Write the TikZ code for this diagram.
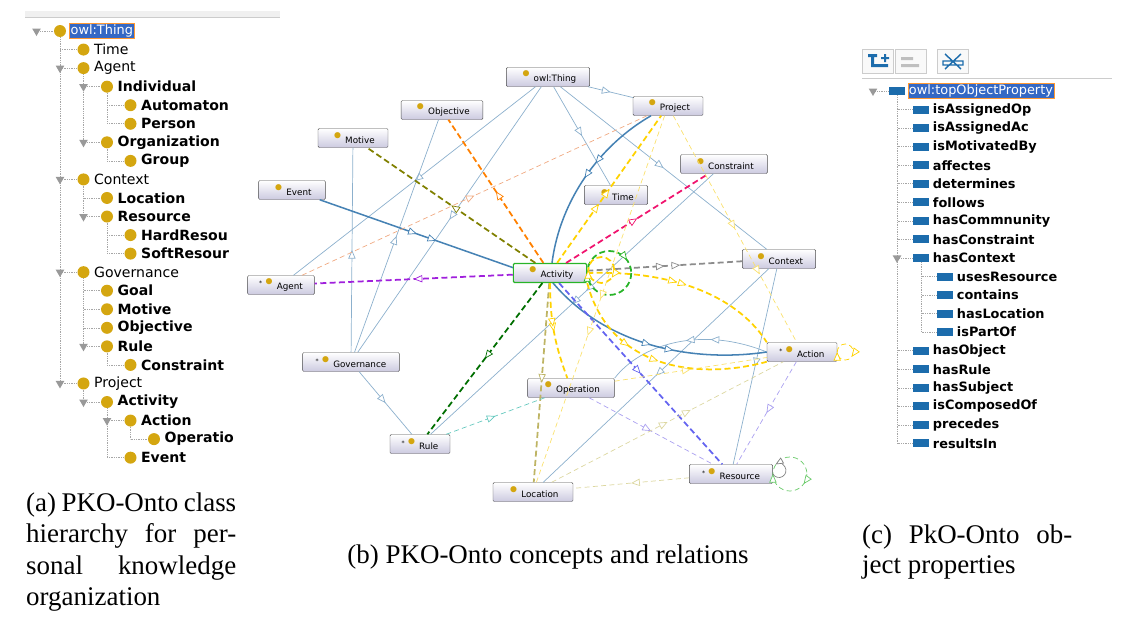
\documentclass[tikz,border=0pt]{standalone}
\usepackage{fontspec}
\setmainfont{DejaVu Sans}
\newfontfamily\capf{Liberation Serif}
\usetikzlibrary{positioning,calc,shapes.geometric,arrows.meta,decorations.markings}

\definecolor{gold}{RGB}{212,166,16}
\definecolor{selblue}{RGB}{52,104,196}
\definecolor{propblue}{RGB}{28,108,172}
\definecolor{subblue}{RGB}{140,176,205}
\definecolor{isablue}{RGB}{70,130,180}
\definecolor{cpurple}{RGB}{160,32,220}
\definecolor{colive}{RGB}{128,128,0}
\definecolor{corange}{RGB}{255,128,0}
\definecolor{cpink}{RGB}{240,20,110}
\definecolor{cgray}{RGB}{140,140,140}
\definecolor{cdgreen}{RGB}{0,110,0}
\definecolor{ckhaki}{RGB}{190,180,100}
\definecolor{cviolet}{RGB}{100,100,240}
\definecolor{cyellow}{RGB}{255,210,0}
\definecolor{cpeach}{RGB}{240,170,130}
\definecolor{cteal}{RGB}{100,200,190}
\definecolor{clav}{RGB}{170,160,240}
\definecolor{cbeige}{RGB}{220,215,160}
\definecolor{clyellow}{RGB}{250,225,110}
\definecolor{cgreen}{RGB}{40,180,40}

\newcommand{\gdot}{\textcolor{gold}{\fontsize{18}{10}\selectfont\textbullet}\,}
\newcommand{\stardot}{\textsuperscript{*}\gdot}

\tikzset{
  cdot/.style={circle, fill=gold, inner sep=0pt, minimum size=0.36cm},
  tri/.style={regular polygon, regular polygon sides=3, shape border rotate=180, fill=gray!80, inner sep=0pt, minimum size=0.3cm},
  tree/.style={densely dotted, gray!70, line width=0.5pt},
  tn/.style={anchor=west, inner sep=1pt, font=\fontsize{12}{12}\selectfont},
  tb/.style={tn, font=\fontsize{12}{12}\selectfont\bfseries},
  picon/.style={fill=propblue, inner sep=0pt, minimum width=0.5cm, minimum height=0.24cm},
  pl/.style={anchor=west, inner sep=1pt, font=\fontsize{11}{12}\selectfont\bfseries},
  sel/.style={anchor=west, inner sep=1pt, fill=selblue, text=white, draw=orange!80, font=\fontsize{11}{12}\selectfont},
  cls/.style={draw=gray!60!black, rounded corners=1pt, top color=white, bottom color={rgb,255:red,204;green,202;blue,224},
    minimum height=0.57cm, inner sep=1pt, font=\fontsize{7.5}{8}\selectfont},
  mid/.style={postaction={decorate, decoration={markings, mark=at position #1 with {\arrow{Triangle[length=2.6mm, width=2.2mm, fill=white, line width=0.6pt]}}}}},
  mid/.default=0.5,
  sub/.style={subblue, line width=0.6pt, mid},
  isa/.style={isablue, line width=1.3pt, mid},
  prop/.style={line width=1.5pt, dash pattern=on 1.8mm off 1mm, mid},
  thin prop/.style={line width=0.6pt, dash pattern=on 1.5mm off 1mm, mid},
  caption text/.style={font=\capf\fontsize{23}{27}\selectfont, inner sep=0pt, anchor=base west},
}

\begin{document}
\begin{tikzpicture}[x=0.03cm, y=-0.03cm]
\useasboundingbox (0,0) rectangle (1142,640);

% --- (a) class hierarchy
\fill[gray!12] (25,11) rectangle (280,17);
\draw[gray!40] (25,17) -- (280,17);
\begin{scope}
\clip (20,20) rectangle (236,470);
\foreach \lev/\txt/\fw [count=\i] in {0/{}/tn, 1/Time/tn, 1/Agent/tn, 2/Individual/tb, 3/Automaton/tb, 3/Person/tb,
  2/Organization/tb, 3/Group/tb, 1/Context/tn, 2/Location/tb, 2/Resource/tb, 3/HardResou/tb, 3/SoftResour/tb,
  1/Governance/tn, 2/Goal/tb, 2/Motive/tb, 2/Objective/tb, 2/Rule/tb, 3/Constraint/tb, 1/Project/tn,
  2/Activity/tb, 3/Action/tb, 4/Operatio/tb, 3/Event/tb} {
  \pgfmathsetmacro\yy{31+18.55*(\i-1)}
  \pgfmathsetmacro\xx{60+23.5*\lev}
  \draw[tree] (\xx,\yy) -- ++(-23.5,0);
  \node[cdot] (c\i) at (\xx,\yy) {};
  \node[\fw] (l\i) at ($(c\i.east)+(3,0)$) {\txt};
}
\node[sel] (l1) at ($(c1.east)+(3,0)$) {owl:Thing};
\foreach \p/\q in {1/20, 3/7, 4/6, 7/8, 9/11, 11/13, 14/18, 18/19, 20/21, 21/24, 22/23}
  \draw[tree] (c\p.south) -- (c\p |- c\q);
\foreach \k in {1,3,4,7,9,11,14,18,20,21,22}
  \node[tri] at ($(c\k)+(-23.5,0)$) {};
\end{scope}

\node[caption text] (capa1) at (26,511) {\makebox[6.3cm][s]{(a) PKO-Onto class}};
\node[caption text, below=0.2cm of capa1.south west, anchor=north west] (capa2) {\makebox[6.3cm][s]{hierarchy for per-}};
\node[caption text, below=0.2cm of capa2.south west, anchor=north west] (capa3) {\makebox[6.3cm][s]{sonal knowledge}};
\node[caption text, below=0.2cm of capa3.south west, anchor=north west] (capa4) {organization};

% --- (b) concepts and relations
\node[cls, minimum width=2.5cm] (thing) at (548,77) {\gdot owl:Thing};
\node[cls, minimum width=2.1cm] (project) at (668,106) {\gdot Project};
\node[cls, minimum width=2.45cm] (objective) at (442,110) {\gdot Objective};
\node[cls, minimum width=2.1cm] (motive) at (353,138) {\gdot Motive};
\node[cls, minimum width=2.6cm] (constraint) at (724,164) {\gdot Constraint};
\node[cls, minimum width=2cm] (event) at (292,190) {\gdot Event};
\node[cls, minimum width=1.9cm] (time) at (616,195) {\gdot Time};
\node[cls, minimum width=2.2cm] (context) at (779,259) {\gdot Context};
\node[cls, minimum width=2cm] (agent) at (281,285) {\stardot Agent};
\node[cls, minimum width=2.9cm] (governance) at (351,362) {\stardot Governance};
\node[cls, minimum width=2.1cm] (action) at (802,352) {\stardot Action};
\node[cls, minimum width=2.6cm] (operation) at (571,388) {\gdot Operation};
\node[cls, minimum width=1.8cm] (rule) at (420,444) {\stardot Rule};
\node[cls, minimum width=2.5cm] (resource) at (731,474) {\stardot Resource};
\node[cls, minimum width=2.4cm] (location) at (533,492) {\gdot Location};

% subclass links
\draw[sub] (thing) -- (project);
\draw[sub] (thing) -- (time);
\draw[sub] (thing) -- (context);
\draw[sub] (thing) -- (agent);
\draw[sub] (thing) -- (governance);
\draw[sub] (governance) -- (objective);
\draw[sub] (governance) -- (motive);
\draw[sub] (governance) -- (rule);
\draw[sub, mid=0.45] (constraint) -- (rule);
\draw[sub] (context) -- (location);
\draw[sub] (context) -- (resource);
\draw[sub, mid=0.35] (action.west) .. controls (700,325) and (640,345) .. (operation.north east);
\draw[isa, mid=0.4] (project) .. controls (600,145) and (560,200) .. (552,263);
\draw[isa, mid=0.6] (553,283) .. controls (610,350) and (700,362) .. (action.west);
\draw[isa, mid=0.6] (event) -- (514,268);

% the Activity node drawn over its links
\node[cls, minimum width=2.2cm, draw=cgreen, line width=1pt] (activity) at (550,273) {\gdot Activity};
\coordinate (actloop) at ($(activity.east)+(22,0)$);
\coordinate (actloopb) at ($(activity.east)+(14,-3)$);

% object properties
\draw[prop, cpurple] (activity) -- (agent);
\draw[prop, colive] (activity) -- (motive);
\draw[prop, corange] (activity) -- (objective);
\draw[prop, cpink] (activity) -- (constraint);
\draw[prop, cgray, mid=0.6] (activity) -- (context);
\draw[prop, cdgreen] (activity) -- (rule);
\draw[prop, ckhaki] (activity) -- (location);
\draw[prop, cviolet] (activity) -- (resource);
\draw[prop, cyellow, mid=0.4] (activity) -- (project);
\draw[prop, cyellow, mid=0.45] (activity) to[bend right=10] (operation);
\draw[prop, cyellow, mid=0.45] (activity.east) .. controls (680,270) and (740,300) .. (action.north west);
\draw[prop, cyellow, mid=0.35] (activity.south east) .. controls (610,370) and (700,380) .. (action.south west);
\draw[prop, cgreen, mid=0.9] (actloop) circle (22);
\draw[prop, cyellow, mid=0.1] (actloopb) circle (13);

\draw[thin prop, cpeach] (agent) -- (project);
\draw[thin prop, cteal] (rule) -- (operation);
\draw[thin prop, clav] (operation) -- (resource);
\draw[thin prop, clav] (action) -- (resource);
\draw[thin prop, cbeige] (resource) -- (location);
\draw[thin prop, cbeige, mid=0.6] (location) -- (action);
\draw[thin prop, clyellow, mid=0.7] (project) -- (action);
\draw[thin prop, clyellow, mid=0.6] (project) -- (location);
\draw[thin prop, clyellow] (operation) -- (action);

\coordinate (resloop) at ($(resource.east)+(17,0)$);
\draw[thin prop, cgreen!70, mid=0.1] (resloop) circle (17);
\draw[gray, line width=0.6pt, -{Triangle[length=2.4mm, width=2mm, fill=white]}] (resource.east) arc[start angle=150, end angle=-120, radius=7];
\draw[thin prop, cyellow, mid=0.1] ($(action.east)+(8,0)$) circle (8);

\node[caption text, anchor=base] (capb) at (548,563) {(b) PKO-Onto concepts and relations};

% --- (c) object properties
\foreach \bx in {862,895,937}
  \draw[gray!40, fill=gray!5] (\bx,49) rectangle ++(31,24);
\fill[propblue] (868,54) rectangle ++(9,3) (871,54) rectangle ++(3,13) (871,64) rectangle ++(17,3) (881,57) rectangle ++(8,2) (884,54) rectangle ++(2,8);
\fill[gray!50] (901,57) rectangle ++(12,3) (901,64) rectangle ++(18,3);
\draw[propblue, line width=1.2pt] (945,54) -- (961,69) (961,54) -- (945,69) (943,61) rectangle ++(20,4);
\draw[gray!40] (862,78) -- (1112,78);

\foreach \lev/\txt [count=\i] in {0/{}, 1/isAssignedOp, 1/isAssignedAc, 1/isMotivatedBy, 1/affectes, 1/determines,
  1/follows, 1/hasCommnunity, 1/hasConstraint, 1/hasContext, 2/usesResource, 2/contains, 2/hasLocation,
  2/isPartOf, 1/hasObject, 1/hasRule, 1/hasSubject, 1/isComposedOf, 1/precedes, 1/resultsIn} {
  \pgfmathsetmacro\yy{91+18.55*(\i-1)}
  \pgfmathsetmacro\xx{897+24*\lev}
  \draw[tree] (\xx,\yy) -- ++(-24,0);
  \node[picon] (p\i) at (\xx,\yy) {};
  \node[pl] (q\i) at ($(p\i.east)+(2,0)$) {\txt};
}
\node[sel] (q1) at ($(p1.east)+(2,0)$) {owl:topObjectProperty};
\draw[tree] (p1.south) -- (p1 |- p20);
\draw[tree] (p10.south) -- (p10 |- p14);
\node[tri] at ($(p1)+(-24,0)$) {};
\node[tri] at ($(p10)+(-24,0)$) {};

\node[caption text] (capc1) at (862,543) {\makebox[6.3cm][s]{(c) PkO-Onto ob-}};
\node[caption text, below=0.2cm of capc1.south west, anchor=north west] (capc2) {ject properties};
\end{tikzpicture}
\end{document}
